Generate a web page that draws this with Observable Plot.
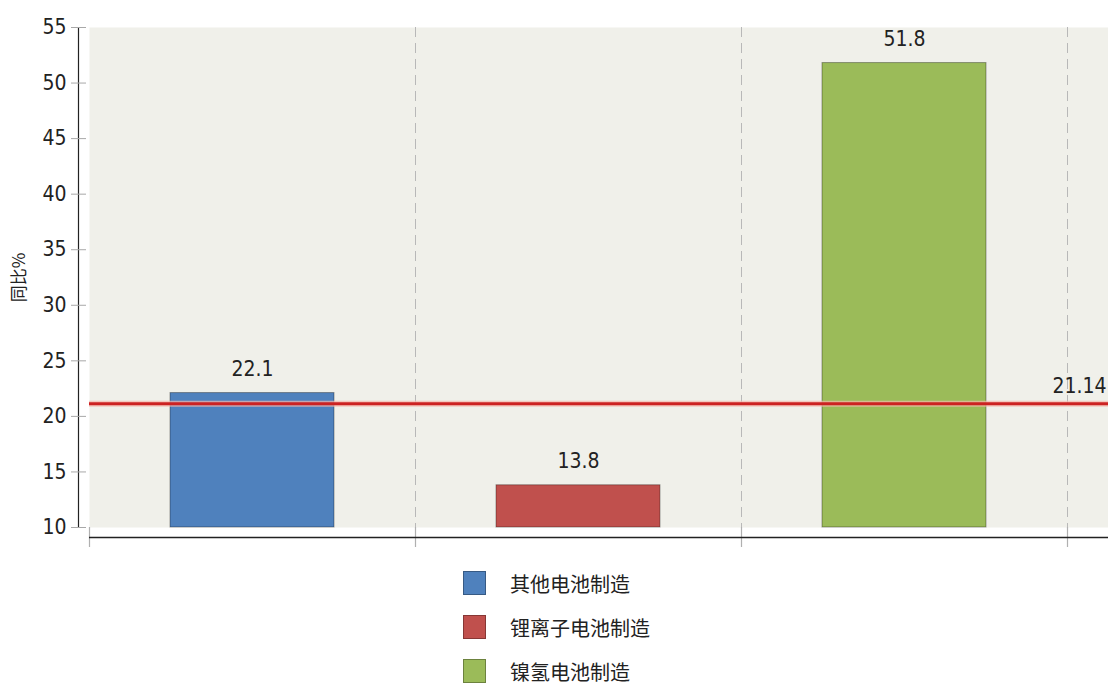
<!DOCTYPE html>
<html>
<head>
<meta charset="utf-8">
<script src="https://cdn.jsdelivr.net/npm/d3@7"></script>
<script src="https://cdn.jsdelivr.net/npm/@observablehq/plot@0.6"></script>
<style>
  html, body { margin: 0; padding: 0; background: #fff; }
  #chart { width: 1108px; }
  #chart svg text { font-family: "DejaVu Sans Condensed", "DejaVu Sans", sans-serif; font-stretch: condensed; }
  #chart svg text.cjk { font-family: "Noto Sans CJK SC", sans-serif; font-stretch: normal; }
  .legend { margin-top: 16px; margin-left: 463px; font-family: "Noto Sans CJK SC", sans-serif; font-size: 20px; color: #222; }
  .legend .item { display: flex; align-items: center; height: 44px; }
  .legend .item:first-child { margin-top: -10px; }
  .legend .sw { width: 23px; height: 24px; box-sizing: border-box; border: 1px solid rgba(0,0,0,0.3); margin-right: 24px; }
</style>
</head>
<body>
<div id="chart"></div>
<script>
const categories = ["其他电池制造", "锂离子电池制造", "镍氢电池制造"];
const values = [22.1, 13.8, 51.8];
const average = 21.14;
const averageLabel = "21.14";
const yTicks = [10, 15, 20, 25, 30, 35, 40, 45, 50, 55];
const yLabel = "同比%";
const palette = ["#4f81bd", "#c0504d", "#9bbb59"];

const data = categories.map((c, i) => ({category: c, value: values[i], i}));

const chart = Plot.plot({
  width: 1108,
  height: 555,
  marginTop: 27,
  marginBottom: 28,
  marginLeft: 89,
  marginRight: 0,
  style: {fontSize: "21px", color: "#222", background: "#fff"},
  x: {type: "linear", domain: [0, 4], range: [89, 1393], axis: null},
  y: {domain: [10, 55], axis: null},
  color: {domain: categories, range: palette},
  marks: [
    Plot.frame({fill: "#f0f0ea", stroke: "none"}),
    Plot.ruleX([1, 2, 3], {stroke: "#b8b8b8", strokeDasharray: "10,6", strokeWidth: 1, insetBottom: -20}),
    Plot.ruleX([0, 1, 2, 3], {stroke: "#b0b0b0", strokeWidth: 1.2, insetTop: 500, insetBottom: -20}),
    Plot.rectY(data, {x1: "i", x2: d => d.i + 1, y1: 10, y2: "value", fill: "category",
      stroke: "#000", strokeOpacity: 0.35, strokeWidth: 1, insetLeft: 81, insetRight: 81}),
    Plot.ruleY([average], {stroke: "#f5b7ad", strokeWidth: 6, strokeOpacity: 0.7}),
    Plot.ruleY([average], {stroke: "#cc2222", strokeWidth: 3}),
    Plot.text([averageLabel], {frameAnchor: "right", y: () => average, text: d => d, textAnchor: "end", dx: -2, dy: -17, fill: "#222", fontSize: 21}),
    Plot.text(data, {x: d => d.i + 0.5, y: "value", text: d => String(d.value), dy: -24, fill: "#222", fontSize: 21}),
    Plot.ruleY([10], {dy: 10, stroke: "#222", strokeWidth: 1.5}),
    Plot.ruleX([0], {dx: -11, y1: 10, y2: 55, stroke: "#222", strokeWidth: 1.2}),
    Plot.axisY(yTicks, {anchor: "left", tickSize: 15, dx: -3, tickPadding: 5, stroke: "#a8a8a8", fill: "#222", label: null, fontSize: 21}),
    Plot.text([yLabel], {frameAnchor: "left", text: d => d, rotate: -90, textAnchor: "middle", dx: -70, fill: "#222",
      fontSize: 17, className: "cjk"})
  ]
});
chart.querySelectorAll("text").forEach(t => {
  if (/[\u4e00-\u9fff]/.test(t.textContent)) t.classList.add("cjk");
});
document.getElementById("chart").appendChild(chart);

const legend = document.createElement("div");
legend.className = "legend";
categories.forEach((c, i) => {
  const item = document.createElement("div");
  item.className = "item";
  const sw = document.createElement("div");
  sw.className = "sw";
  sw.style.background = palette[i];
  const label = document.createElement("span");
  label.textContent = c;
  item.appendChild(sw);
  item.appendChild(label);
  legend.appendChild(item);
});
document.getElementById("chart").appendChild(legend);
</script>
</body>
</html>
